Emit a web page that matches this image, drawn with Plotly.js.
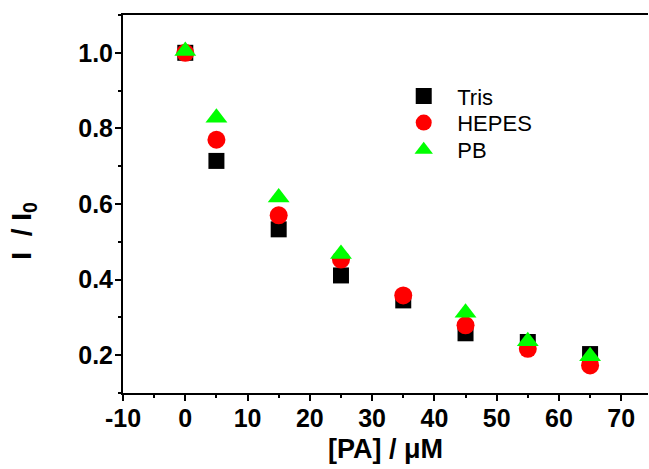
<!DOCTYPE html>
<html>
<head>
<meta charset="utf-8">
<script src="https://cdn.plot.ly/plotly-3.0.1.min.js"></script>
<style>html,body{margin:0;padding:0;background:#fff;}#chart{width:649px;height:469px;}</style>
</head>
<body>
<div id="chart"></div>
<script>
const concentration = [0, 5, 15, 25, 35, 45, 55, 65];
const tris  = [1.000, 0.714, 0.533, 0.411, 0.345, 0.258, 0.235, 0.203];
const hepes = [1.000, 0.770, 0.570, 0.453, 0.358, 0.279, 0.217, 0.173];
const pb    = [1.005, 0.828, 0.617, 0.468, null, 0.312, 0.237, 0.197];
const seriesNames = ['Tris', 'HEPES', 'PB'];
const xTickVals = [-10, 0, 10, 20, 30, 40, 50, 60, 70];
const yTickVals = [0.2, 0.4, 0.6, 0.8, 1.0];

const FONT = 'Liberation Sans, Arial, Helvetica, sans-serif';

const traces = [
  {x: concentration, y: tris, name: seriesNames[0], type: 'scatter', mode: 'markers', legend: 'legend',
   marker: {symbol: 'square', size: 16, color: '#000000'}},
  {x: concentration, y: hepes, name: seriesNames[1], type: 'scatter', mode: 'markers', legend: 'legend2',
   marker: {symbol: 'circle', size: 18, color: '#ff0000'}},
  {x: concentration, y: pb, name: seriesNames[2], type: 'scatter', mode: 'markers', legend: 'legend3',
   marker: {symbol: 'triangle-up', size: 19, color: '#00ff00'}}
];

function legendAt(yPaper) {
  return {x: 0.509, y: yPaper, xanchor: 'left', yanchor: 'top',
          font: {family: FONT, size: 22, color: '#000'},
          itemwidth: 57, bgcolor: 'rgba(0,0,0,0)'};
}

const layout = {
  width: 649, height: 469,
  margin: {l: 123, r: 1, t: 15, b: 76},
  paper_bgcolor: '#ffffff', plot_bgcolor: '#ffffff',
  font: {family: FONT, color: '#000000'},
  showlegend: true,
  legend: legendAt(0.8405),
  legend2: legendAt(0.7705),
  legend3: legendAt(0.6985),
  xaxis: {
    range: [-10, 74.3], tickvals: xTickVals, ticktext: xTickVals.map(String),
    showgrid: false, zeroline: false, showline: true, linewidth: 2, linecolor: '#000',
    mirror: true, ticks: 'outside', ticklen: 6, tickwidth: 2, tickcolor: '#000',
    minor: {dtick: 5, tick0: 0, ticks: 'outside', ticklen: 3, tickwidth: 2, tickcolor: '#000'},
    tickfont: {family: FONT, size: 25, color: '#000', weight: 'bold'},
    ticklabelstandoff: -4,
    title: {text: '<b>[PA] / μM</b>', font: {family: FONT, size: 27, color: '#000'}, standoff: 8}
  },
  yaxis: {
    range: [0.1, 1.1], tickvals: yTickVals, ticktext: yTickVals.map(v => v.toFixed(1)),
    showgrid: false, zeroline: false, showline: true, linewidth: 2, linecolor: '#000',
    ticks: 'outside', ticklen: 6, tickwidth: 2, tickcolor: '#000',
    minor: {dtick: 0.1, tick0: 0.1, ticks: 'outside', ticklen: 3, tickwidth: 2, tickcolor: '#000'},
    tickfont: {family: FONT, size: 25, color: '#000', weight: 'bold'},
    ticklabelstandoff: -3
  },
  annotations: [{
    text: '<b>I\u00a0\u00a0/\u00a0I<sub>0</sub></b>', textangle: -90,
    xref: 'paper', yref: 'paper', x: -0.19, y: 0.43, xanchor: 'center', yanchor: 'middle',
    showarrow: false, font: {family: FONT, size: 28, color: '#000'}
  }]
};

Plotly.newPlot('chart', traces, layout, {displayModeBar: false, staticPlot: true});
</script>
</body>
</html>
